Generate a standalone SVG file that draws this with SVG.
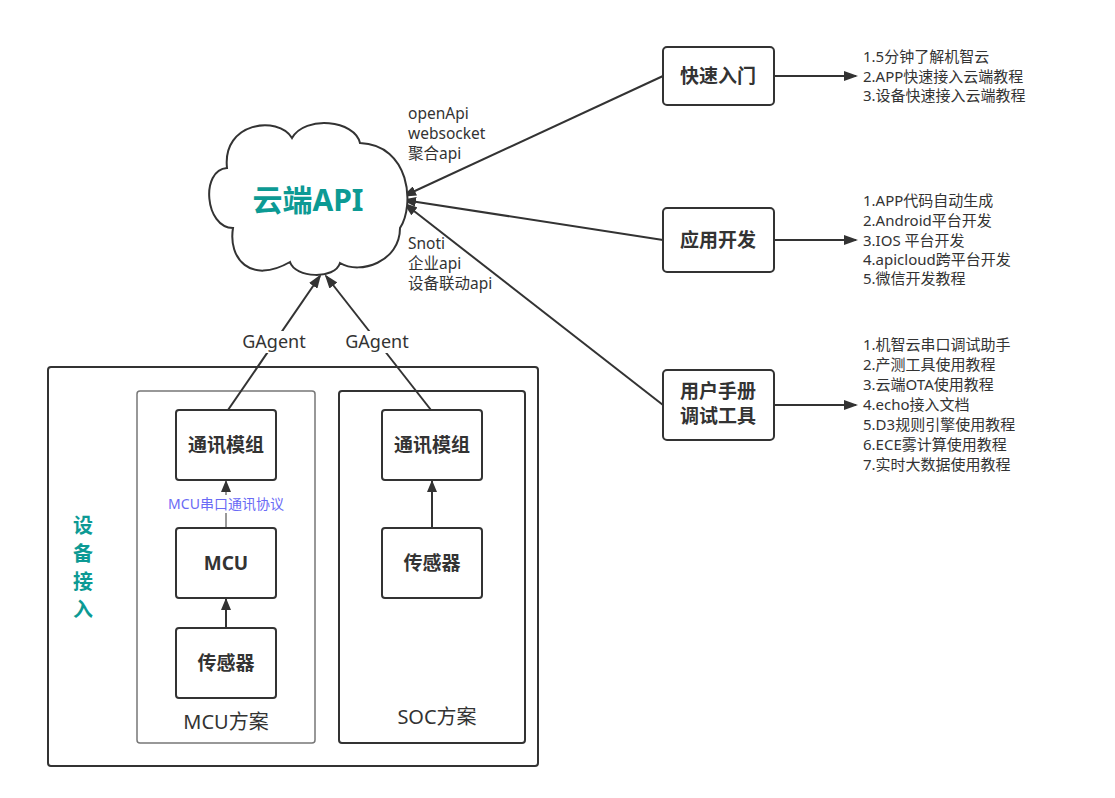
<svg xmlns="http://www.w3.org/2000/svg" width="1115" height="798" viewBox="0 0 1115 798">
<style>
text{font-family:"Noto Sans","Noto Sans CJK SC",sans-serif;fill:#333}
.box{fill:#fff;stroke:#333;stroke-width:2}
.bt{font-size:19px;font-weight:bold;text-anchor:middle}
.lst{font-size:15px}
.lbl{font-size:15.5px}
.ln{stroke:#333;stroke-width:2;fill:none}
.teal{fill:#0c9a94;font-weight:bold}
</style>
<defs>
<marker id="ah" viewBox="0 0 14 10" markerWidth="14" markerHeight="10" refX="12" refY="5" orient="auto" markerUnits="userSpaceOnUse">
<path d="M0,0 L14,5 L0,10 z" fill="#333"/>
</marker>
<marker id="ahs" viewBox="0 0 12 10" markerWidth="12" markerHeight="10" refX="11" refY="5" orient="auto" markerUnits="userSpaceOnUse">
<path d="M0,0 L12,5 L0,10 z" fill="#333"/>
</marker>
</defs>
<rect width="1115" height="798" fill="#fff"/>

<g id="device-access">
<rect x="48" y="367" width="490" height="399" rx="3" class="box"/>
<text class="teal" font-size="20" text-anchor="middle"><tspan x="83" y="533">设</tspan><tspan x="83" y="561">备</tspan><tspan x="83" y="589">接</tspan><tspan x="83" y="617">入</tspan></text>
</g>
<g id="mcu-scheme">
<rect x="137" y="391" width="178" height="352" rx="3" fill="#fff" stroke="#777" stroke-width="1.5"/>
<text x="226" y="729" font-size="20" text-anchor="middle">MCU方案</text>
</g>
<g id="soc-scheme">
<rect x="339" y="391" width="186" height="352" rx="3" class="box"/>
<text x="437" y="724" font-size="20" text-anchor="middle">SOC方案</text>
</g>

<g id="connectors">
<line x1="663" y1="76" x2="404" y2="196" class="ln" marker-end="url(#ah)"/>
<line x1="663" y1="240" x2="404" y2="200" class="ln" marker-end="url(#ah)"/>
<line x1="663" y1="405" x2="405" y2="204" class="ln" marker-end="url(#ah)"/>
<line x1="775" y1="76" x2="856" y2="76" class="ln" marker-end="url(#ah)"/>
<line x1="775" y1="240" x2="856" y2="240" class="ln" marker-end="url(#ah)"/>
<line x1="775" y1="405" x2="856" y2="405" class="ln" marker-end="url(#ah)"/>
<line x1="228" y1="410" x2="320" y2="276" class="ln" marker-end="url(#ah)"/>
<line x1="431" y1="410" x2="326" y2="276" class="ln" marker-end="url(#ah)"/>
<line x1="226" y1="628" x2="226" y2="599" class="ln" marker-end="url(#ahs)"/>
<line x1="432" y1="528" x2="432" y2="481" class="ln" marker-end="url(#ahs)"/>
<line x1="226" y1="528" x2="226" y2="481" stroke="#777" stroke-width="1.5" marker-end="url(#ahs)"/>
<rect x="244" y="331" width="62" height="22" fill="#fff"/>
<text x="274" y="348" font-size="18" text-anchor="middle">GAgent</text>
<rect x="346" y="331" width="62" height="22" fill="#fff"/>
<text x="377" y="348" font-size="18" text-anchor="middle">GAgent</text>
<rect x="166" y="495" width="120" height="18" fill="#fff"/>
<text x="226" y="509" font-size="14" text-anchor="middle" style="fill:#6a6af5">MCU串口通讯协议</text>
</g>

<g id="cloud">
<path d="M227,168 C200,170 205,228 233,228 C228,258 250,285 290,262 C295,278 335,280 340,263 C360,275 400,262 400,228 C415,205 410,145 360,143 C355,120 305,115 292,138 C278,115 222,122 227,168 Z" fill="#fff" stroke="#333" stroke-width="2"/>
<text x="308" y="211" class="teal" font-size="30" text-anchor="middle">云端API</text>
<text class="lbl"><tspan x="408" y="119">openApi</tspan><tspan x="408" y="139">websocket</tspan><tspan x="408" y="159">聚合api</tspan></text>
<text class="lbl"><tspan x="408" y="249">Snoti</tspan><tspan x="408" y="269">企业api</tspan><tspan x="408" y="289">设备联动api</tspan></text>
</g>

<g id="quick-start">
<rect x="663" y="47" width="111" height="58" rx="4" class="box"/>
<text x="718" y="83" class="bt">快速入门</text>
<text class="lst"><tspan x="863" y="62">1.5分钟了解机智云</tspan><tspan x="863" y="82">2.APP快速接入云端教程</tspan><tspan x="863" y="101">3.设备快速接入云端教程</tspan></text>
</g>
<g id="app-dev">
<rect x="663" y="208" width="111" height="64" rx="4" class="box"/>
<text x="718" y="247" class="bt">应用开发</text>
<text class="lst"><tspan x="863" y="206">1.APP代码自动生成</tspan><tspan x="863" y="226">2.Android平台开发</tspan><tspan x="863" y="246">3.IOS 平台开发</tspan><tspan x="863" y="265">4.apicloud跨平台开发</tspan><tspan x="863" y="284">5.微信开发教程</tspan></text>
</g>
<g id="manual-tools">
<rect x="663" y="370" width="111" height="70" rx="4" class="box"/>
<text x="718" y="398" class="bt" font-size="17">用户手册</text>
<text x="718" y="423" class="bt" font-size="17">调试工具</text>
<text class="lst"><tspan x="863" y="350">1.机智云串口调试助手</tspan><tspan x="863" y="370">2.产测工具使用教程</tspan><tspan x="863" y="390">3.云端OTA使用教程</tspan><tspan x="863" y="410">4.echo接入文档</tspan><tspan x="863" y="430">5.D3规则引擎使用教程</tspan><tspan x="863" y="450">6.ECE雾计算使用教程</tspan><tspan x="863" y="470">7.实时大数据使用教程</tspan></text>
</g>

<g id="mcu-comm">
<rect x="176" y="410" width="100" height="70" rx="3" class="box"/>
<text x="226" y="452" class="bt" font-size="20">通讯模组</text>
</g>
<g id="mcu">
<rect x="176" y="528" width="100" height="70" rx="3" class="box"/>
<text x="226" y="570" class="bt" font-size="20">MCU</text>
</g>
<g id="mcu-sensor">
<rect x="176" y="628" width="100" height="70" rx="3" class="box"/>
<text x="226" y="670" class="bt" font-size="20">传感器</text>
</g>
<g id="soc-comm">
<rect x="382" y="410" width="100" height="70" rx="3" class="box"/>
<text x="432" y="452" class="bt" font-size="20">通讯模组</text>
</g>
<g id="soc-sensor">
<rect x="382" y="528" width="100" height="70" rx="3" class="box"/>
<text x="432" y="570" class="bt" font-size="20">传感器</text>
</g>
</svg>
